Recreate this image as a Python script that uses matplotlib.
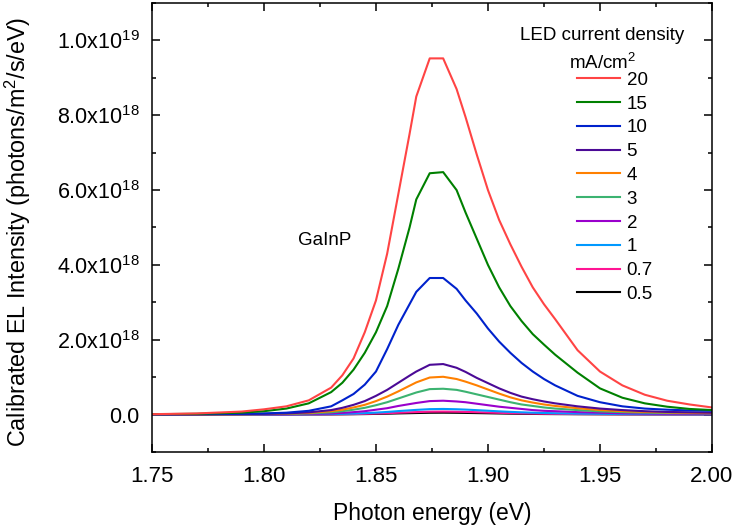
import matplotlib
matplotlib.use("Agg")
import matplotlib.pyplot as plt
from matplotlib.ticker import MultipleLocator, FuncFormatter

plt.rcParams['font.family'] = ['Liberation Sans', 'DejaVu Sans']
plt.rcParams['mathtext.default'] = 'regular'

# photon energy grid (eV)
energy = [1.75, 1.77, 1.79, 1.80, 1.81, 1.82, 1.83, 1.835, 1.84, 1.845,
          1.85, 1.855, 1.86, 1.865, 1.868, 1.874, 1.880, 1.886, 1.89, 1.895,
          1.90, 1.905, 1.91, 1.915, 1.92, 1.925, 1.93, 1.94, 1.95, 1.96,
          1.97, 1.98, 1.99, 2.00]

# EL intensity, units of 1e18 photons/m2/s/eV
el_20 = [0.01, 0.03, 0.08, 0.14, 0.22, 0.38, 0.72, 1.05, 1.5, 2.2,
         3.05, 4.3, 5.9, 7.5, 8.5, 9.52, 9.52, 8.7, 7.95, 6.95,
         6.0, 5.2, 4.55, 3.95, 3.4, 2.95, 2.55, 1.72, 1.15, 0.78,
         0.53, 0.37, 0.27, 0.19]
el_15 = [0.01, 0.02, 0.05, 0.09, 0.16, 0.3, 0.6, 0.85, 1.2, 1.65,
         2.2, 2.9, 3.9, 5.0, 5.75, 6.45, 6.48, 6.0, 5.4, 4.7,
         4.0, 3.4, 2.9, 2.5, 2.15, 1.87, 1.6, 1.12, 0.7, 0.45,
         0.3, 0.21, 0.15, 0.12]
el_10 = [0.005, 0.01, 0.02, 0.03, 0.05, 0.1, 0.22, 0.38, 0.55, 0.8,
         1.15, 1.75, 2.4, 2.95, 3.28, 3.65, 3.65, 3.36, 3.05, 2.7,
         2.3, 1.95, 1.65, 1.38, 1.15, 0.95, 0.78, 0.5, 0.33, 0.22,
         0.16, 0.13, 0.11, 0.1]
el_5 = [0.003, 0.006, 0.012, 0.02, 0.03, 0.06, 0.12, 0.18, 0.26, 0.36,
        0.5, 0.66, 0.85, 1.04, 1.15, 1.33, 1.35, 1.25, 1.14, 0.98,
        0.84, 0.7, 0.58, 0.48, 0.41, 0.35, 0.3, 0.22, 0.16, 0.12,
        0.09, 0.07, 0.06, 0.05]
el_4 = [0.002, 0.004, 0.009, 0.015, 0.025, 0.045, 0.09, 0.13, 0.19, 0.26,
        0.36, 0.48, 0.62, 0.77, 0.86, 0.99, 1.01, 0.95, 0.88, 0.78,
        0.67, 0.56, 0.46, 0.38, 0.32, 0.27, 0.23, 0.17, 0.12, 0.09,
        0.07, 0.055, 0.045, 0.04]
el_3 = [0.002, 0.003, 0.006, 0.01, 0.017, 0.03, 0.06, 0.09, 0.13, 0.18,
        0.25, 0.33, 0.43, 0.53, 0.59, 0.68, 0.69, 0.66, 0.61, 0.54,
        0.47, 0.4, 0.33, 0.27, 0.23, 0.19, 0.16, 0.12, 0.085, 0.065,
        0.05, 0.04, 0.035, 0.03]
el_2 = [0.001, 0.002, 0.003, 0.005, 0.009, 0.016, 0.03, 0.045, 0.065, 0.09,
        0.13, 0.17, 0.23, 0.28, 0.31, 0.36, 0.37, 0.35, 0.33, 0.29,
        0.25, 0.21, 0.18, 0.15, 0.12, 0.1, 0.09, 0.065, 0.05, 0.035,
        0.028, 0.022, 0.018, 0.015]
el_1 = [0.0005, 0.001, 0.0015, 0.002, 0.004, 0.007, 0.013, 0.019, 0.027, 0.037,
        0.052, 0.07, 0.093, 0.113, 0.125, 0.145, 0.15, 0.142, 0.133, 0.118,
        0.102, 0.086, 0.072, 0.06, 0.05, 0.042, 0.036, 0.026, 0.02, 0.014,
        0.011, 0.009, 0.007, 0.006]
el_07 = [0.0003, 0.0005, 0.001, 0.0012, 0.002, 0.004, 0.007, 0.01, 0.014, 0.02,
         0.028, 0.037, 0.049, 0.06, 0.066, 0.077, 0.08, 0.076, 0.071, 0.063,
         0.054, 0.046, 0.038, 0.032, 0.027, 0.022, 0.019, 0.014, 0.011, 0.008,
         0.006, 0.005, 0.004, 0.003]
el_05 = [0.0002, 0.0003, 0.0006, 0.0008, 0.0013, 0.0025, 0.0045, 0.0065, 0.009, 0.0125,
         0.0175, 0.023, 0.031, 0.037, 0.041, 0.048, 0.05, 0.047, 0.044, 0.039,
         0.034, 0.029, 0.024, 0.02, 0.017, 0.014, 0.012, 0.009, 0.007, 0.005,
         0.004, 0.003, 0.0025, 0.002]

labels = ['20', '15', '10', '5', '4', '3', '2', '1', '0.7', '0.5']
series = [el_20, el_15, el_10, el_5, el_4, el_3, el_2, el_1, el_07, el_05]
colors = ['#FF4444', '#008000', '#0022CC', '#4B0A96', '#FF8000',
          '#3CB371', '#9A00CC', '#0099FF', '#FF1493', '#000000']

fig = plt.figure(figsize=(7.34, 5.29), dpi=100)
ax = fig.add_axes([0.207, 0.1456, 0.763, 0.8487])

# draw lowest current first so the strong curves sit on top
handles = []
for lab, vals, col in reversed(list(zip(labels, series, colors))):
    h, = ax.plot(energy, [v * 1e18 for v in vals], color=col, lw=1.5, label=lab)
    handles.append(h)
handles = handles[::-1]

ax.set_xlim(1.75, 2.00)
ax.set_ylim(-1e18, 1.1e19)
ax.xaxis.set_major_locator(MultipleLocator(0.05))
ax.xaxis.set_minor_locator(MultipleLocator(0.025))
ax.yaxis.set_major_locator(MultipleLocator(2e18))
ax.yaxis.set_minor_locator(MultipleLocator(1e18))
ax.xaxis.set_major_formatter(FuncFormatter(lambda v, p: f'{v:.2f}'))


def sci_fmt(v, p):
    if abs(v) < 1e10:
        return '0.0'
    exp = int(f'{v:e}'.split('e')[1])
    mant = v / 10 ** exp
    return f'{mant:.1f}x10$^{{{exp}}}$'


ax.yaxis.set_major_formatter(FuncFormatter(sci_fmt))
ax.tick_params(which='both', direction='in', top=True, right=True, width=1.1)
ax.tick_params(which='minor', length=3)
ax.tick_params(which='major', length=5.5)
ax.tick_params(axis='x', which='major', labelsize=16, pad=10)
ax.tick_params(axis='y', which='major', labelsize=15.5, pad=9)
for sp in ax.spines.values():
    sp.set_linewidth(1.1)

ax.set_xlabel('Photon energy (eV)', fontsize=16.5)
ax.xaxis.set_label_coords(0.5, -0.112)
ax.set_ylabel('Calibrated EL Intensity (photons/m$^2$/s/eV)', fontsize=16.8)
ax.yaxis.set_label_coords(-0.212, 0.49)

ax.text(1.827, 4.64e18, 'GaInP', fontsize=13.5, ha='center', va='center')

# legend heading drawn on its own so it can sit left of the entries
ax.text(0.804, 0.896, 'LED current density\nmA/cm$^2$', transform=ax.transAxes,
        fontsize=13.5, ha='center', va='center', multialignment='center',
        linespacing=1.55)
leg = ax.legend(handles=handles, frameon=False, fontsize=13.5, loc='upper left',
                bbox_to_anchor=(0.759, 0.847), handlelength=2.3, handletextpad=0.35,
                labelspacing=0.355, borderpad=0, borderaxespad=0)

fig.savefig('out.png', dpi=100)
